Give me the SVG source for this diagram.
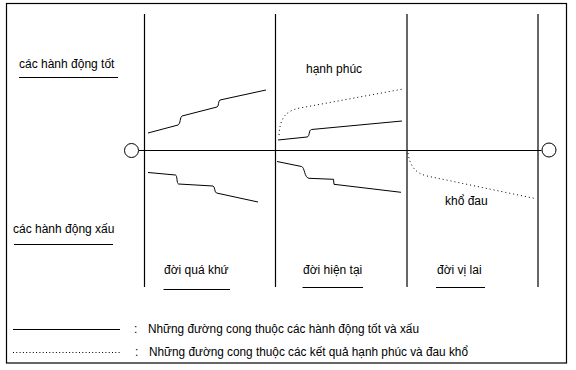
<svg xmlns="http://www.w3.org/2000/svg" width="576" height="370" viewBox="0 0 576 370">
<style>
text{font-family:"Liberation Sans",Arial,sans-serif;font-size:12px;fill:#000}
.ln{stroke:#000;stroke-width:1;fill:none}
.ax{stroke:#000;stroke-width:1.2;fill:none}
.dot{stroke:#000;stroke-width:1;fill:none;stroke-dasharray:1 3}
</style>
<rect x="6.5" y="3.5" width="560" height="359.5" fill="#fff" stroke="#000" stroke-width="1.2"/>
<g id="axes">
<line class="ax" x1="144.5" y1="14" x2="144.5" y2="287"/>
<line class="ax" x1="275.5" y1="14" x2="275.5" y2="287"/>
<line class="ax" x1="407" y1="14" x2="407" y2="287"/>
<line class="ax" x1="538" y1="14" x2="538" y2="287"/>
<line class="ax" x1="139" y1="150.5" x2="541.5" y2="150.5"/>
</g>
<g id="circle-left"><circle class="ln" cx="131.5" cy="150.5" r="7"/></g>
<g id="circle-right"><circle class="ln" cx="549" cy="150" r="7"/></g>
<g id="label-good"><text x="19" y="68">các hành động tốt</text><line class="ln" x1="19" y1="77.5" x2="118" y2="77.5"/></g>
<g id="label-bad"><text x="13" y="233">các hành động xấu</text><line class="ln" x1="14" y1="244.5" x2="113" y2="244.5"/></g>
<g id="label-happy"><text x="306" y="73">hạnh phúc</text></g>
<g id="label-suffer"><text x="445" y="205">khổ đau</text></g>
<g id="label-past"><text x="164" y="274">đời quá khứ</text><line class="ln" x1="163.5" y1="289.5" x2="230" y2="289.5"/></g>
<g id="label-present"><text x="303" y="273.5">đời hiện tại</text><line class="ln" x1="302.5" y1="287.5" x2="363" y2="287.5"/></g>
<g id="label-future"><text x="437" y="273.5">đời vị lai</text><line class="ln" x1="436" y1="287.5" x2="485" y2="287.5"/></g>
<g id="connectors">
<path class="ln" d="M148,133 L178,125 C180.5,124 180,117 182,116 L217,107 C219,106.5 218,101 220,100 L266,90"/>
<path class="ln" d="M148,172.5 L175.5,175 C177.5,175.5 176.5,183.5 178.5,184 L213,186 C215,186.5 214.5,192.5 216.5,193 L258,202"/>
<path class="ln" d="M278,140 L307,137 C310,136.5 308.5,130 311.5,129.5 L402,121"/>
<path class="dot" d="M279,135 C280,120 284,111 300,108 L403,89"/>
<path class="ln" d="M277,161.5 L301.5,166.5 C305,167.5 304,177.5 309,178.3 L333.5,179.3 L334,184.3 L401,192.3"/>
<path class="dot" d="M408,153 C410,166 415,173 427,176 L535,198.5"/>
</g>
<g id="legend">
<line class="ln" x1="13" y1="329.5" x2="120" y2="329.5"/>
<text x="134" y="333">:</text>
<text x="148" y="333" textLength="271" lengthAdjust="spacingAndGlyphs">Những đường cong thuộc các hành động tốt và xấu</text>
<line class="ln" x1="13" y1="352.5" x2="120" y2="352.5" stroke-dasharray="1 2.3"/>
<text x="135" y="356">:</text>
<text x="149" y="356" textLength="319" lengthAdjust="spacingAndGlyphs">Những đường cong thuộc các kết quả hạnh phúc và đau khổ</text>
</g>
</svg>
